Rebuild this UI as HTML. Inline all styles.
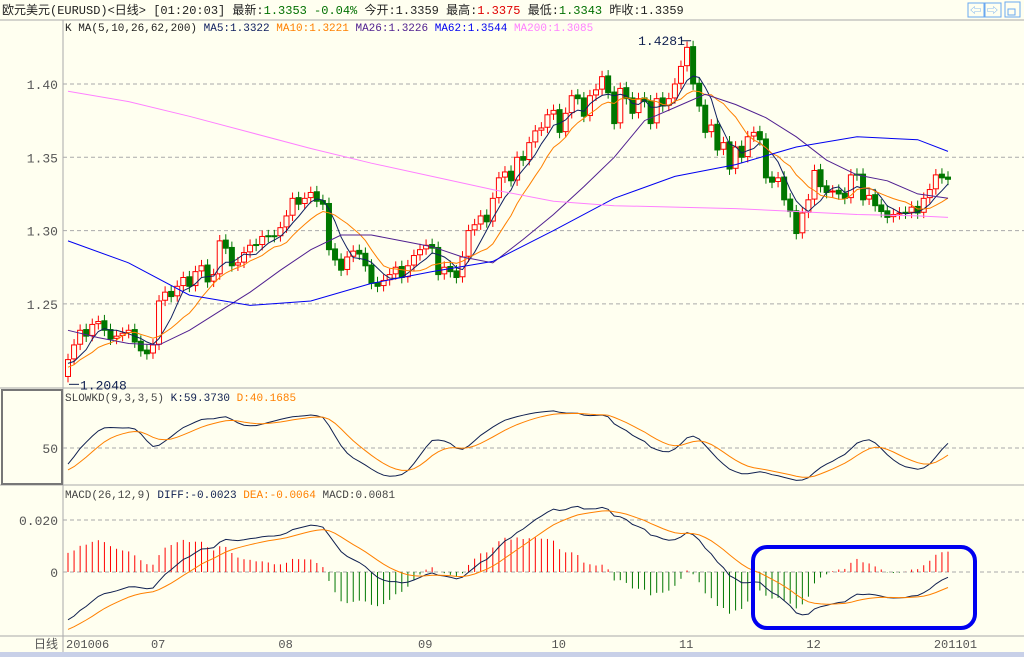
<!DOCTYPE html>
<html><head><meta charset="utf-8">
<style>
html,body{margin:0;padding:0;background:#FFFFF0;}
svg{display:block;font-family:"Liberation Mono","Noto Sans CJK SC",monospace;}
</style></head>
<body>
<svg id="c" width="1024" height="657" viewBox="0 0 1024 657" xmlns="http://www.w3.org/2000/svg">
<rect x="0" y="0" width="1024" height="657" fill="#FFFFF0"/>
<g font-size="12">
<text x="2" y="14" fill="#222">欧元美元(EURUSD)&lt;日线&gt; [01:20:03] 最新:<tspan fill="#007000">1.3353 -0.04%</tspan> 今开:1.3359 最高:<tspan fill="#E00000">1.3375</tspan> 最低:<tspan fill="#007000">1.3343</tspan> 昨收:1.3359</text>
</g>
<g>
<rect x="968" y="3" width="16" height="14" fill="none" stroke="#6aa8f0"/>
<text x="970" y="14" font-size="11" fill="#6aa8f0">⇦</text>
<rect x="985" y="3" width="16" height="14" fill="none" stroke="#6aa8f0"/>
<text x="987" y="14" font-size="11" fill="#6aa8f0">⇨</text>
<rect x="1005" y="2" width="15" height="15" fill="none" stroke="#6aa8f0"/>
<rect x="1008" y="9" width="7" height="6" fill="none" stroke="#6aa8f0"/>
</g>
<line x1="0" y1="20" x2="1024" y2="20" stroke="#aaa"/>
<line x1="63" y1="20" x2="63" y2="652" stroke="#aaa"/>
<line x1="0" y1="388" x2="1024" y2="388" stroke="#aaa"/>
<line x1="0" y1="485" x2="1024" y2="485" stroke="#aaa"/>
<line x1="0" y1="636" x2="1024" y2="636" stroke="#aaa"/>
<rect x="2" y="390" width="60" height="94" fill="none" stroke="#777" stroke-width="2"/>
<text x="65" y="31" font-size="11" fill="#222">K  MA(5,10,26,62,200) <tspan fill="#102060">MA5:1.3322</tspan> <tspan fill="#FF8000">MA10:1.3221</tspan> <tspan fill="#502090">MA26:1.3226</tspan> <tspan fill="#0000F0">MA62:1.3544</tspan> <tspan fill="#FF80FF">MA200:1.3085</tspan></text>
<text x="65" y="401" font-size="11" fill="#444">SLOWKD(9,3,3,5) <tspan fill="#102050">K:59.3730</tspan> <tspan fill="#FF8000">D:40.1685</tspan></text>
<text x="65" y="498" font-size="11" fill="#444">MACD(26,12,9) <tspan fill="#102050">DIFF:-0.0023</tspan> <tspan fill="#FF8000">DEA:-0.0064</tspan> MACD:0.0081</text>
<rect x="0" y="652" width="1024" height="5" fill="#c8d0e8"/>
<g id="plot"></g>
<rect x="753" y="547" width="222" height="81" rx="14" fill="none" stroke="#0000F0" stroke-width="4"/>
</svg>
<script>
// ---- data ----
const priorCloses=[1.205,1.198,1.203,1.210,1.205,1.215,1.212,1.208,1.200];
const closes=[1.212,1.222,1.232,1.228,1.236,1.238,1.232,1.226,1.228,1.230,1.232,1.224,1.218,1.216,1.222,
1.252,1.258,1.255,1.262,1.268,1.262,1.272,1.276,1.265,1.270,1.293,1.288,1.276,1.278,1.285,1.290,1.290,1.296,1.296,1.296,1.302,1.310,1.322,1.318,1.322,1.326,1.320,1.318,
1.287,1.280,1.273,1.282,1.286,1.284,1.276,1.264,1.262,1.266,1.270,1.275,1.268,1.276,1.283,1.287,1.290,1.288,1.270,1.275,1.272,1.268,
1.282,1.300,1.304,1.310,1.306,1.322,1.336,1.340,1.334,1.350,1.348,1.360,1.368,1.370,1.379,1.382,1.367,1.380,1.392,1.390,1.378,1.392,1.396,1.405,1.394,1.373,1.397,1.390,1.380,1.390,1.388,1.373,1.390,1.385,1.390,1.400,1.412,1.425,
1.400,1.385,1.367,1.372,1.355,1.360,1.342,1.357,1.350,1.364,1.367,1.362,1.336,1.333,1.336,1.321,1.313,1.298,1.312,1.321,1.341,1.330,1.326,1.327,1.325,1.322,1.338,1.338,1.321,1.324,1.317,1.313,1.309,1.311,1.312,1.312,1.316,1.312,1.322,1.328,1.338,1.336,1.335];
const ma26Samples=[1.232,1.227,1.223,1.222,1.232,1.245,1.258,1.273,1.287,1.297,1.297,1.293,1.289,1.282,1.278,1.294,1.311,1.330,1.350,1.375,1.384,1.393,1.386,1.377,1.364,1.348,1.338,1.334,1.325,1.322];
const ma62Samples=[1.293,1.278,1.256,1.249,1.252,1.264,1.272,1.279,1.300,1.322,1.337,1.345,1.357,1.364,1.362,1.354];
const ma200Samples=[1.395,1.388,1.378,1.367,1.356,1.346,1.337,1.328,1.320,1.317,1.316,1.315,1.313,1.311,1.310,1.309];
const priceTicks=[1.25,1.30,1.35,1.40];
const monthLabels=["201006","07","08","09","10","11","12","201101"];
const monthStartIdx=[0,14,35,58,80,101,122,143];
const kdInit=[25,22];
const macdInit=[1.222,1.241,-0.023];

// ---- scales ----
const NS="http://www.w3.org/2000/svg";
const plot=document.getElementById('plot');
const n=closes.length, step=880/(n-1);
const X=i=>68+i*step;
const Yp=p=>84+(1.40-p)*1466;
const Yk=v=>448-(v-50)*0.85;
const Ym=v=>572-v*2600;
function mk(tag,attrs){const e=document.createElementNS(NS,tag);for(const k in attrs)e.setAttribute(k,attrs[k]);plot.appendChild(e);return e;}
function poly(pts,color,name){const e=mk('polyline',{points:pts.map(p=>p[0].toFixed(1)+','+p[1].toFixed(1)).join(' '),fill:'none',stroke:color,'stroke-width':1});

}

// grid + ticks
priceTicks.forEach(t=>{const l=mk('line',{x1:63,x2:1024,y1:Yp(t),y2:Yp(t),stroke:'#aaa','stroke-dasharray':'4,3'});


const tx=mk('text',{x:58,y:Yp(t)+5,'text-anchor':'end','font-size':13,fill:'#555'});tx.textContent=t.toFixed(2);

});
[[Yk(50),'50'],[Ym(0.02),'0.020'],[Ym(0),'0']].forEach(([y,s])=>{const l=mk('line',{x1:63,x2:1024,y1:y,y2:y,stroke:'#aaa','stroke-dasharray':'4,3'});


const tx=mk('text',{x:58,y:y+5,'text-anchor':'end','font-size':13,fill:'#555'});tx.textContent=s;

});
monthLabels.forEach((m,k)=>{const tx=mk('text',{x:X(monthStartIdx[k])-2,y:648,'font-size':12,fill:'#555'});tx.textContent=m;

});
{const tx=mk('text',{x:58,y:648,'text-anchor':'end','font-size':12,fill:'#555'});tx.textContent='日线';

}

// candles
const all=priorCloses.concat(closes);
const opens=[],highs=[],lows=[];
for(let i=0;i<n;i++){const o=all[priorCloses.length+i-1]+0.0005;const c=closes[i];opens.push(o);highs.push(Math.max(o,c)+0.004);lows.push(Math.min(o,c)-0.004);}
for(let i=0;i<n;i++){const o=opens[i],c=closes[i],up=c>=o,col=up?'#FF0000':'#007700';
const w=mk('line',{x1:X(i),x2:X(i),y1:Yp(highs[i]),y2:Yp(lows[i]),stroke:col});


const top=Yp(Math.max(o,c)),h=Math.max(1,Math.abs(Yp(o)-Yp(c)));
const r=mk('rect',{x:X(i)-2.5,y:top,width:5,height:h,fill:up?'#FFFFF0':col,stroke:col});

}

// moving averages
function sma(len){const out=[];for(let i=0;i<n;i++){const j=priorCloses.length+i;let s=0,c=0;for(let k=Math.max(0,j-len+1);k<=j;k++){s+=all[k];c++;}out.push([X(i),Yp(s/c)]);}return out;}
poly(sma(5),'#102060','ma5-line');
poly(sma(10),'#FF8000','ma10-line');
poly(ma26Samples.map((v,k)=>[X(Math.min(k*5,n-1)),Yp(v)]),'#502090','ma26-line');
poly(ma62Samples.map((v,k)=>[X(Math.min(k*10,n-1)),Yp(v)]),'#0000F0','ma62-line');
poly(ma200Samples.map((v,k)=>[X(Math.min(k*10,n-1)),Yp(v)]),'#FF80FF','ma200-line');

// extreme annotations
{let hi=0,lo=0;for(let i=0;i<n;i++){if(highs[i]>highs[hi])hi=i;if(lows[i]<lows[lo])lo=i;}
const t1=mk('text',{x:X(hi)-55,y:Yp(highs[hi])+4,'font-size':13,fill:'#102050'});t1.textContent='1.4281';


const a1=mk('line',{x1:X(hi)-12,x2:X(hi)-2,y1:Yp(highs[hi]),y2:Yp(highs[hi]),stroke:'#102050'});


const t2=mk('text',{x:X(lo)+12,y:Yp(lows[lo])+7,'font-size':13,fill:'#102050'});t2.textContent='1.2048';


const a2=mk('line',{x1:X(lo)+1,x2:X(lo)+11,y1:Yp(lows[lo])+2,y2:Yp(lows[lo])+2,stroke:'#102050'});

}

// KD (slow, smoothed)
{let K=kdInit[0],D=kdInit[1],S=kdInit[0];const kp=[],dp=[];
for(let i=0;i<n;i++){let hh=-1,ll=9;for(let k=Math.max(0,i-11);k<=i;k++){hh=Math.max(hh,highs[k]);ll=Math.min(ll,lows[k]);}
const rsv=hh>ll?(closes[i]-ll)/(hh-ll)*100:50;S=(2*S+rsv)/3;K=(2*K+S)/3;D=(3*D+K)/4;kp.push([X(i),Yk(K)]);dp.push([X(i),Yk(D)]);}
poly(kp,'#102050','kd-k-line');poly(dp,'#FF8000','kd-d-line');}

// MACD
{let e12=macdInit[0],e26=macdInit[1],dea=macdInit[2];const dp=[],ep=[];
for(let i=0;i<n;i++){const c=closes[i];e12=e12*11/13+c*2/13;e26=e26*25/27+c*2/27;const diff=e12-e26;dea=dea*0.8+diff*0.2;
const m=2*(diff-dea);
const b=mk('line',{x1:X(i),x2:X(i),y1:Ym(0),y2:Ym(m),stroke:m>=0?'#FF0000':'#007700'});


dp.push([X(i),Ym(diff)]);ep.push([X(i),Ym(dea)]);}
poly(dp,'#102050','macd-diff-line');poly(ep,'#FF8000','macd-dea-line');}
</script>
</body></html>
